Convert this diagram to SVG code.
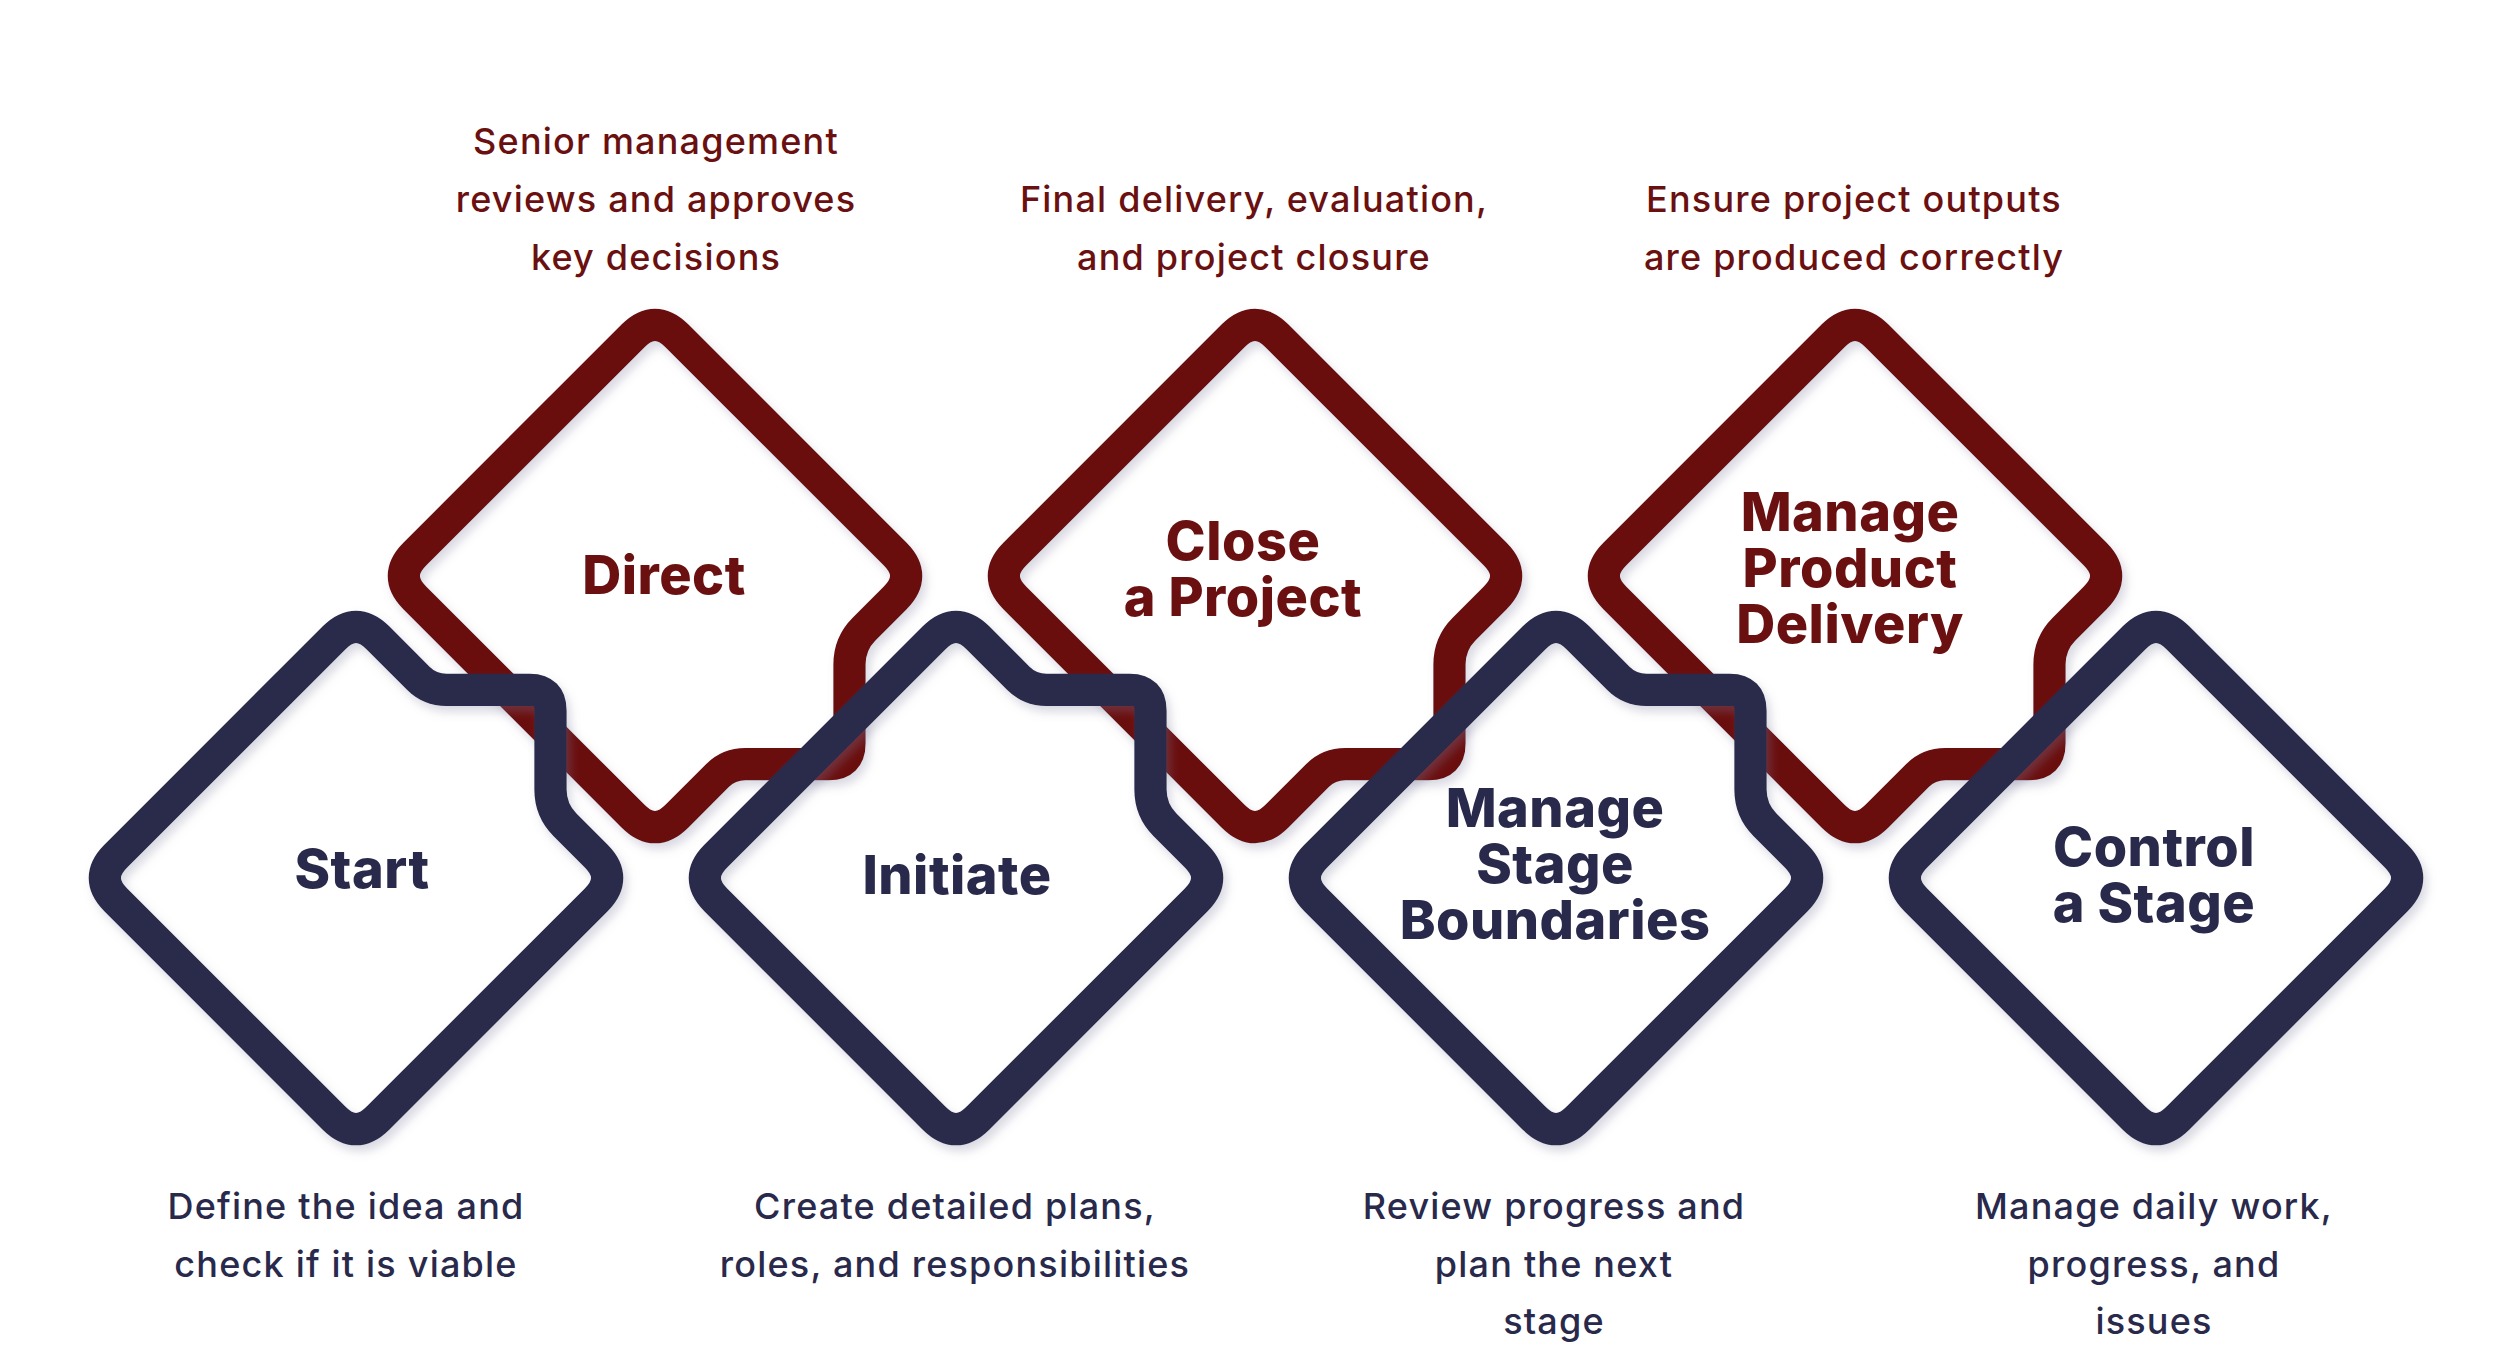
<svg xmlns="http://www.w3.org/2000/svg" width="2508" height="1346" viewBox="0 0 2508 1346">
<defs>
<style>
.d{fill:none;stroke-width:31;stroke-linejoin:round}
.g{filter:url(#sh)}
.n{stroke:#29294b}.r{stroke:#6a1010}
.t{font-family:Inter,"Open Sans",sans-serif;font-weight:800;font-size:54px;text-anchor:middle;letter-spacing:0.5px}
.s{font-family:Inter,"Open Sans",sans-serif;font-weight:500;font-size:36px;text-anchor:middle;letter-spacing:1.2px}
.tn{fill:#29294b}.tr{fill:#6a1010}
</style>
<filter id="sh" x="-10%" y="-10%" width="120%" height="120%"><feDropShadow dx="4" dy="6" stdDeviation="5" flood-color="#8080a0" flood-opacity="0.3"/></filter>
<path id="jd" d="M21,-231 L60,-192 Q71,-181 87,-181 L167,-181 Q187,-181 187,-161 L187,-85 Q187,-65 201,-51 L231,-21 Q252,0 231,21 L21,231 Q0,252 -21,231 L-231,21 Q-252,0 -231,-21 L-21,-231 Q0,-252 21,-231 Z"/>
<path id="pd" d="M21,-231 L231,-21 Q252,0 231,21 L21,231 Q0,252 -21,231 L-231,21 Q-252,0 -231,-21 L-21,-231 Q0,-252 21,-231 Z"/>
</defs>
<g id="connectors"/>
<g id="direct"><g class="g"><use href="#jd" class="d r" transform="translate(655,576) scale(1.04,-1.04)"/></g><text class="t tr" x="664" y="594">Direct</text><text class="s tr" x="656" y="154">Senior management</text><text class="s tr" x="656" y="212">reviews and approves</text><text class="s tr" x="656" y="270">key decisions</text></g>
<g id="close"><g class="g"><use href="#jd" class="d r" transform="translate(1255,576) scale(1.04,-1.04)"/></g><text class="t tr" x="1243" y="560">Close</text><text class="t tr" x="1243" y="616">a Project</text><text class="s tr" x="1254" y="212">Final delivery, evaluation,</text><text class="s tr" x="1254" y="270">and project closure</text></g>
<g id="mpd"><g class="g"><use href="#jd" class="d r" transform="translate(1855,576) scale(1.04,-1.04)"/></g><text class="t tr" x="1850" y="531">Manage</text><text class="t tr" x="1850" y="587">Product</text><text class="t tr" x="1850" y="643">Delivery</text><text class="s tr" x="1854" y="212">Ensure project outputs</text><text class="s tr" x="1854" y="270">are produced correctly</text></g>
<g id="start"><g class="g"><use href="#jd" class="d n" transform="translate(356,878) scale(1.04)"/></g><text class="t tn" x="362" y="888">Start</text><text class="s tn" x="346" y="1219">Define the idea and</text><text class="s tn" x="346" y="1277">check if it is viable</text></g>
<g id="initiate"><g class="g"><use href="#jd" class="d n" transform="translate(956,878) scale(1.04)"/></g><text class="t tn" x="957" y="894">Initiate</text><text class="s tn" x="955" y="1219">Create detailed plans,</text><text class="s tn" x="955" y="1277">roles, and responsibilities</text></g>
<g id="msb"><g class="g"><use href="#jd" class="d n" transform="translate(1556,878) scale(1.04)"/></g><text class="t tn" x="1555" y="827">Manage</text><text class="t tn" x="1555" y="883">Stage</text><text class="t tn" x="1555" y="939">Boundaries</text><text class="s tn" x="1554" y="1219">Review progress and</text><text class="s tn" x="1554" y="1277">plan the next</text><text class="s tn" x="1554" y="1334">stage</text></g>
<g id="control"><g class="g"><use href="#pd" class="d n" transform="translate(2156,878) scale(1.04)"/></g><text class="t tn" x="2154" y="866">Control</text><text class="t tn" x="2154" y="922">a Stage</text><text class="s tn" x="2154" y="1219">Manage daily work,</text><text class="s tn" x="2154" y="1277">progress, and</text><text class="s tn" x="2154" y="1334">issues</text></g>
</svg>
